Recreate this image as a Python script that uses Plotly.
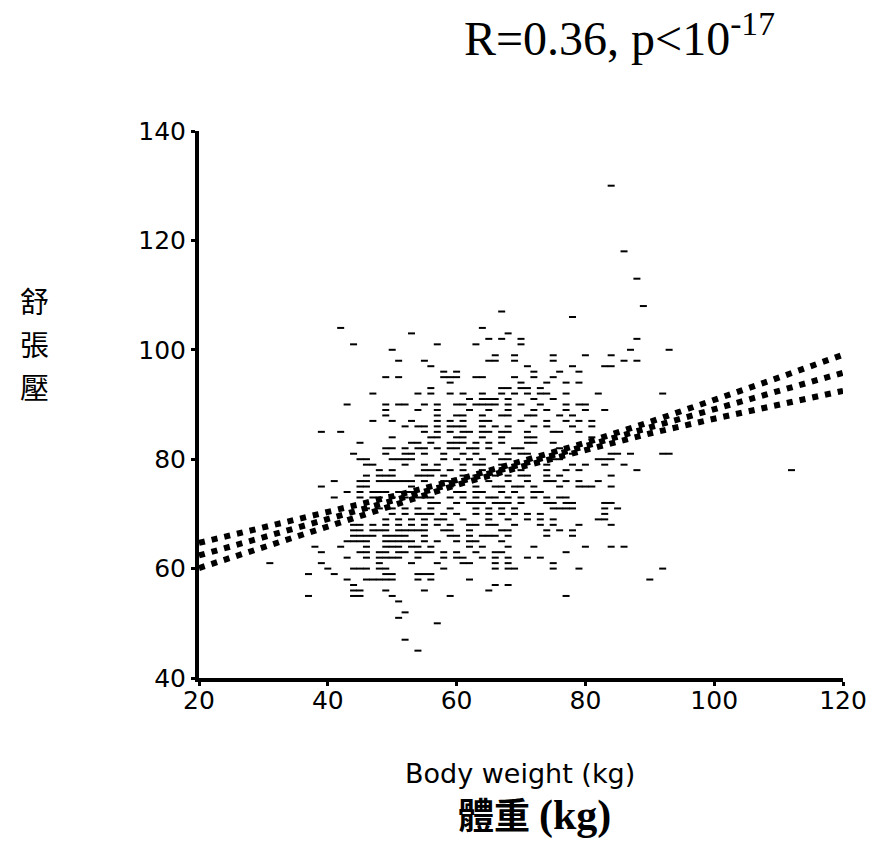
import plotly.graph_objects as go

# ---- scatter data: body weight (kg) and diastolic BP (mmHg), read row by row ----
rows_dbp = [130, 118, 113, 108, 107, 106, 104, 103, 102, 101, 100, 99, 98, 97, 96, 95, 94, 93, 92, 91,
            90, 89, 88, 87, 86, 85, 84, 83, 82, 81, 80, 79, 78, 77, 76, 75, 74, 73, 72, 71,
            70, 69, 68, 67, 66, 65, 64, 63, 62, 61, 60, 59, 58, 57, 56, 55, 54, 52, 51, 50, 47, 45]
rows_weight = [
    [84], [86], [88], [89], [67], [78], [42, 64], [53, 68], [65, 67, 70, 88], [44, 57, 63, 70],
    [50, 87, 93], [66, 69, 75, 80, 84], [51, 55, 65, 66, 69, 75, 86, 88], [56, 71, 78, 83, 84],
    [58, 60, 72, 76, 79], [49, 51, 58, 59, 60, 63, 64, 69, 72, 75], [59, 70, 74, 77, 79],
    [56, 67, 68, 70, 71, 73], [47, 54, 56, 59, 61, 64, 67, 69, 71, 73, 74, 77, 82, 92],
    [62, 64, 65, 66, 68, 72, 75],
    [43, 49, 51, 52, 55, 57, 60, 61, 63, 64, 65, 66, 68, 70, 73, 77, 79, 80],
    [49, 54, 57, 62, 65, 68, 72, 74, 77, 80, 83],
    [49, 57, 60, 61, 64, 67, 68, 71, 72, 76, 78],
    [47, 50, 53, 57, 59, 61, 64, 65, 70, 74, 77, 79, 81],
    [52, 54, 55, 57, 59, 60, 61, 64, 66, 68, 72, 74, 78, 81],
    [39, 42, 55, 57, 59, 61, 62, 64, 65, 67, 68, 71, 75, 76, 79],
    [50, 56, 57, 60, 61, 64, 67, 71, 72, 81],
    [45, 53, 54, 56, 59, 60, 61, 63, 65, 67, 71, 72, 75],
    [49, 50, 52, 54, 55, 57, 59, 60, 62, 63, 65, 69, 70, 76],
    [44, 49, 52, 53, 55, 58, 61, 63, 66, 68, 70, 71, 78, 84, 85, 87, 92, 93],
    [45, 46, 50, 51, 52, 53, 58, 60, 62, 64, 67, 68, 75, 76, 82, 83, 84],
    [46, 47, 52, 55, 57, 61, 63, 64, 67, 74, 78, 80, 83, 86],
    [48, 50, 55, 56, 57, 59, 61, 64, 67, 70, 74, 77, 79, 88, 112],
    [46, 48, 49, 50, 54, 55, 56, 58, 61, 63, 66, 68, 70, 71, 74, 76, 84],
    [41, 45, 46, 48, 49, 50, 51, 52, 53, 55, 58, 59, 65, 68, 71, 74, 75, 77, 79, 82],
    [39, 45, 46, 53, 59, 63, 66, 67, 69, 70, 72, 76, 79, 80, 81, 84],
    [43, 45, 47, 48, 49, 51, 52, 53, 60, 61, 63, 64, 67, 69, 72, 73],
    [41, 45, 47, 48, 50, 52, 54, 55, 56, 59, 61, 63, 65, 66, 68, 70, 72, 74, 76, 77],
    [56, 57, 60, 62, 63, 64, 66, 67, 68, 70, 74, 75, 77, 78, 83, 84],
    [46, 48, 50, 52, 54, 56, 59, 63, 65, 67, 69, 75, 76, 77, 78, 83, 85],
    [50, 52, 54, 55, 56, 58, 60, 63, 65, 67, 69, 71, 73, 83],
    [49, 51, 53, 55, 57, 58, 61, 65, 68, 71, 73, 75, 82, 83],
    [44, 45, 47, 49, 51, 53, 55, 57, 59, 62, 63, 65, 66, 69, 73, 75, 79, 84],
    [44, 45, 47, 48, 49, 51, 52, 53, 54, 55, 58, 59, 62, 67, 68, 74, 76, 78],
    [44, 45, 46, 47, 49, 50, 51, 52, 55, 59, 60, 62, 64, 65, 66, 68, 74, 78],
    [43, 44, 45, 46, 49, 50, 51, 52, 53, 55, 57, 60, 62, 63, 67],
    [38, 42, 46, 49, 50, 51, 53, 54, 56, 62, 64, 68, 72, 80, 84, 86],
    [39, 45, 46, 48, 49, 51, 52, 54, 55, 56, 58, 60, 63, 66, 67, 77],
    [43, 46, 48, 49, 50, 51, 54, 58, 60, 61, 64, 66, 68, 71, 73],
    [31, 39, 48, 53, 57, 61, 62, 66, 68, 75],
    [40, 44, 45, 46, 48, 49, 58, 66, 68, 69, 75, 79, 92],
    [37, 41, 49, 50, 54, 55, 56],
    [43, 46, 47, 48, 49, 50, 54, 56, 62, 90],
    [44, 66, 68], [44, 45, 49, 55, 65], [37, 44, 45, 50, 59, 77],
    [51], [52], [51], [57], [52], [54],
]

weight = []
dbp = []
for yv, xs in zip(rows_dbp, rows_weight):
    for xv in xs:
        weight.append(xv)
        dbp.append(yv)

# ---- regression line and confidence bands ----
fit_x = [20, 30, 40, 50, 60, 70, 80, 90, 100, 110, 120]
fit_center = [62.4, 65.7, 69.1, 72.4, 75.8, 79.1, 82.4, 85.8, 89.1, 92.5, 95.8]
fit_upper = [64.7, 67.5, 70.3, 73.2, 76.2, 79.5, 83.0, 86.8, 90.8, 94.9, 99.1]
fit_lower = [60.1, 63.9, 67.8, 71.6, 75.3, 78.6, 81.7, 84.7, 87.4, 90.0, 92.5]

x_ticks = [20, 40, 60, 80, 100, 120]
y_ticks = [40, 60, 80, 100, 120, 140]
y_title_chars = ["舒", "張", "壓"]

fig = go.Figure()
fig.add_trace(go.Scatter(
    x=weight, y=dbp, mode="markers",
    marker=dict(symbol="line-ew", size=5, color="black",
                line=dict(width=2, color="black")),
    showlegend=False, hoverinfo="x+y", cliponaxis=False))

for ys in (fit_upper, fit_center, fit_lower):
    fig.add_trace(go.Scatter(
        x=fit_x, y=ys, mode="lines",
        line=dict(color="black", width=6, dash="6px,7px"),
        showlegend=False, hoverinfo="skip"))

axis_common = dict(
    showgrid=False, zeroline=False, showline=True, linecolor="black", linewidth=4,
    ticks="outside", ticklen=4, tickwidth=3, tickcolor="black", automargin=False,
    tickfont=dict(family="DejaVu Sans, Verdana, sans-serif", size=25, color="black"),
)

PL, PR, PT, PB = 199, 28, 131, 164
FW, FH = 871, 842

fig.update_layout(
    width=FW, height=FH,
    margin=dict(l=PL, r=PR, t=PT, b=PB, autoexpand=False),
    paper_bgcolor="white", plot_bgcolor="white",
    xaxis=dict(range=[20, 120], tickvals=x_ticks, ticklabelstandoff=-7, **axis_common),
    yaxis=dict(range=[40, 140], tickvals=y_ticks, **axis_common),
)


def px_to_paper(px, py):
    return (px - PL) / (FW - PL - PR), 1 - (py - PT) / (FH - PT - PB)


texts = [
    ("R=0.36, p&lt;10<sup>-17</sup>", 619, 35,
     dict(family="Liberation Serif, Times New Roman, serif", size=48, color="black")),
    ("Body weight (kg)", 520, 773,
     dict(family="DejaVu Sans, Verdana, sans-serif", size=27, color="black")),
    ("<b>體重 <span style=\"font-size:42px\">(kg)</span></b>", 534, 815,
     dict(family="Liberation Serif, Noto Sans CJK TC, serif", size=36, color="black")),
]
for i, ch in enumerate(y_title_chars):
    texts.append((ch, 34, 300 + i * 43,
                  dict(family="Noto Sans CJK TC, serif", size=29, color="black")))

annotations = []
for t, px, py, f in texts:
    ax, ay = px_to_paper(px, py)
    annotations.append(dict(text=t, x=ax, y=ay, xref="paper", yref="paper", showarrow=False,
                            xanchor="center", yanchor="middle", font=f))
fig.update_layout(annotations=annotations)

fig.write_html("out.html")
